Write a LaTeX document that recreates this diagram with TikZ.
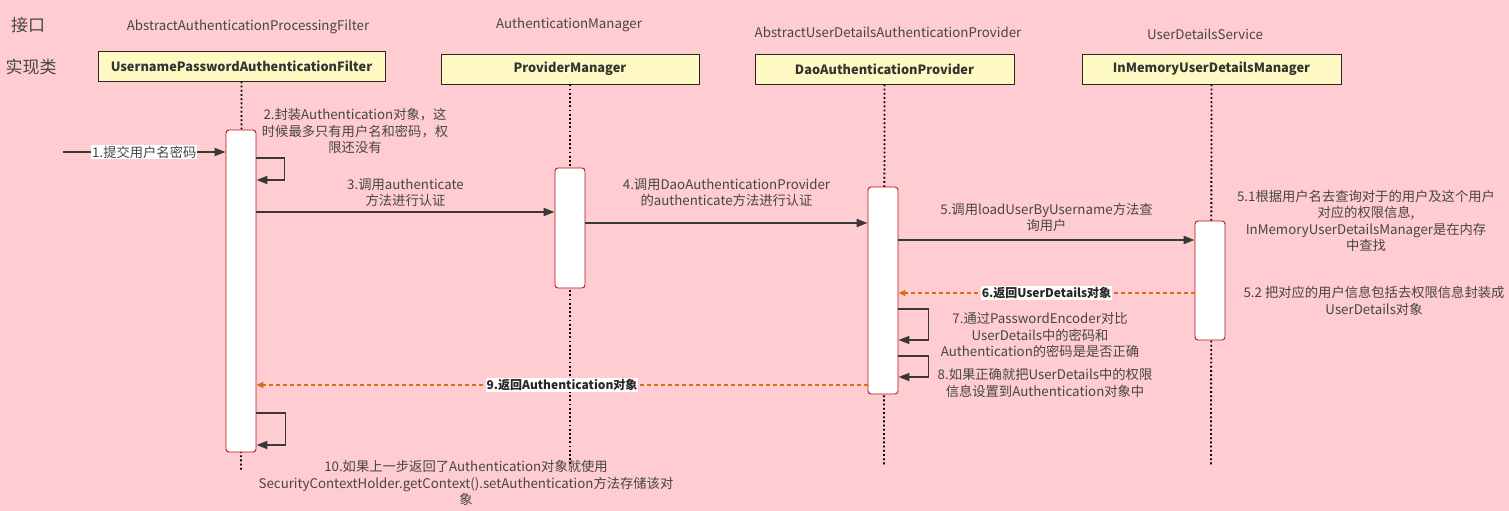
\documentclass[tikz,border=0pt]{standalone}
\usepackage{fontspec}
\setmainfont{Noto Sans CJK SC}
\usetikzlibrary{arrows.meta,positioning,calc}
\definecolor{bgpink}{RGB}{255,204,210}
\definecolor{hdrfill}{RGB}{255,250,196}
\definecolor{actred}{RGB}{178,20,20}
\definecolor{txtgray}{RGB}{70,70,70}
\definecolor{retorange}{RGB}{214,110,20}

\begin{document}
\begin{tikzpicture}[x=1pt,y=-1pt,
	every node/.style={font=\fontsize{13.3}{16.5}\selectfont, text=txtgray, align=center},
	hdr/.style={draw=black!85, fill=hdrfill, minimum height=30, inner sep=0, line width=0.9pt,
		font=\fontsize{12.8}{15}\selectfont\bfseries, text=black!80},
	act/.style={draw=actred, fill=white, rounded corners=3pt, minimum width=30, inner sep=0, line width=0.9pt},
	life/.style={line width=1.8pt, dash pattern=on 1.8pt off 2.4pt},
	msg/.style={draw=black!78, line width=1.8pt, -{Triangle[length=11pt,width=8pt]}},
	ret/.style={draw=retorange, line width=1.2pt, dash pattern=on 4pt off 3pt, -{Triangle[length=7pt,width=6pt]}},
	tag/.style={fill=white, inner sep=1pt},
	boldtag/.style={tag, font=\fontsize{12}{15}\selectfont\bfseries, text=black!85},
	]
	
	\fill[bgpink] (0,0) rectangle (1509,511);
	\useasboundingbox (0,0) rectangle (1509,511);
	
	% kinds
	\node[font=\fontsize{17}{19}\selectfont] (iface) at (28,25) {接口};
	\node[font=\fontsize{17}{19}\selectfont] (impl) at (31,67) {实现类};
	
	% participants
	\node[hdr, minimum width=287] (H1) at (241.5,66) {UsernamePasswordAuthenticationFilter};
	\node[hdr, minimum width=258] (H2) at (570,69) {ProviderManager};
	\node[hdr, minimum width=259] (H3) at (884.5,69) {DaoAuthenticationProvider};
	\node[hdr, minimum width=259] (H4) at (1211.5,69) {InMemoryUserDetailsManager};
	
	\node (I1) at (248,27) {AbstractAuthenticationProcessingFilter};
	\node (I2) at (569,25) {AuthenticationManager};
	\node (I3) at (888,32) {AbstractUserDetailsAuthenticationProvider};
	\node (I4) at (1205,34) {UserDetailsService};
	
	% lifelines
	\coordinate (E1) at (241,470);
	\coordinate (E2) at (570,465);
	\coordinate (E3) at (884,465);
	\coordinate (E4) at (1211,465);
	\draw[life] (H1.south) -- (E1);
	\draw[life] (H2.south) -- (E2);
	\draw[life] (H3.south) -- (E3);
	\draw[life] (H4.south) -- (E4);
	
	% activations
	\node[act, minimum height=322] (A1) at (241,291) {};
	\node[act, minimum height=120] (A2) at (570,228) {};
	\node[act, minimum height=207] (A3) at (883,290.5) {};
	\node[act, minimum height=119] (A4) at (1210,280.5) {};
	
	% calls
	\coordinate (user) at (63,152);
	\draw[msg] (user) -- node[tag] {1.提交用户名密码} (A1.west |- user);
	
	\draw[msg] (A1.east |- 0,158) -- ++(28,0) |- (A1.east |- 0,180);
	\node (N2) at (355,131) {2.封装Authentication对象，这\\时候最多只有用户名和密码，权\\限还没有};
	
	\draw[msg] (A1.east |- 0,212) -- node[above=1pt] {3.调用authenticate\\方法进行认证} (A2.west |- 0,212);
	\draw[msg] (A2.east |- 0,223) -- node[above=12pt] {4.调用DaoAuthenticationProvider\\的authenticate方法进行认证} (A3.west |- 0,223);
	\draw[msg] (A3.east |- 0,240) -- node[above=4pt] {5.调用loadUserByUsername方法查\\询用户} (A4.west |- 0,240);
	
	\node (N51) at (1366,221) {5.1根据用户名去查询对于的用户及这个用户\\对应的权限信息,\\InMemoryUserDetailsManager是在内存\\中查找};
	\node (N52) at (1374,301) {5.2 把对应的用户信息包括去权限信息封装成\\UserDetails对象};
	
	% returns
	\draw[ret] (A4.west |- 0,293) -- node[boldtag] {6.返回UserDetails对象} (A3.east |- 0,293);
	
	\draw[msg] (A3.east |- 0,309) -- ++(30,0) |- (A3.east |- 0,340);
	\node (N7) at (1040,335) {7.通过PasswordEncoder对比\\UserDetails中的密码和\\Authentication的密码是是否正确};
	\draw[msg] (A3.east |- 0,356) -- ++(30,0) |- (A3.east |- 0,377);
	\node (N8) at (1045,383) {8.如果正确就把UserDetails中的权限\\信息设置到Authentication对象中};
	
	\draw[ret] (A3.west |- 0,385) -- node[boldtag] {9.返回Authentication对象} (A1.east |- 0,385);
	
	\draw[msg] (A1.east |- 0,413) -- ++(29,0) |- (A1.east |- 0,445);
	\node (N10) at (466,483) {10.如果上一步返回了Authentication对象就使用\\SecurityContextHolder.getContext().setAuthentication方法存储该对\\象};
	
\end{tikzpicture}
\end{document}
